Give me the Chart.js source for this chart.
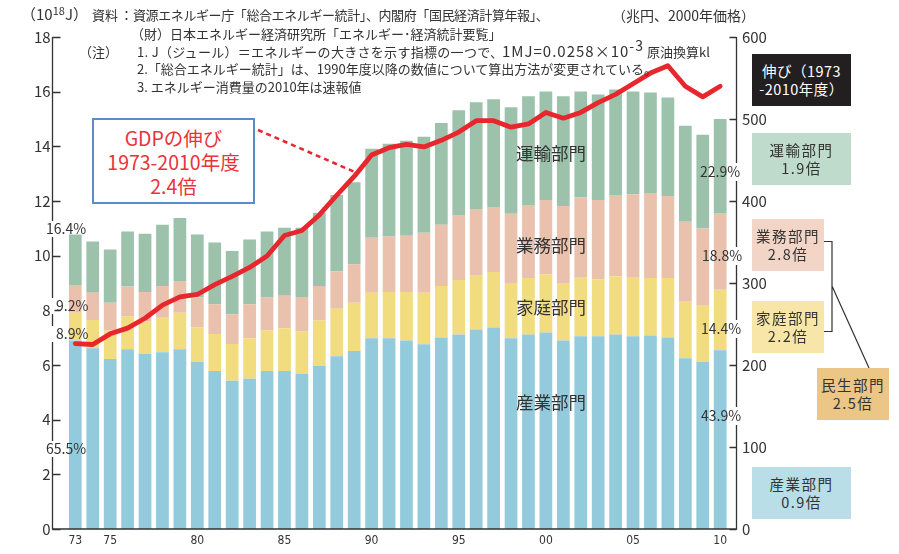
<!DOCTYPE html>
<html lang="ja">
<head>
<meta charset="utf-8">
<script src="https://cdn.jsdelivr.net/npm/chart.js@4.4.1/dist/chart.umd.min.js"></script>
<style>
html, body { margin: 0; padding: 0; background: #fff; }
#wrap { position: relative; width: 899px; height: 554px; overflow: hidden; font-family: "Noto Sans CJK JP", sans-serif; color: #333; }
#chart { position: absolute; left: 0; top: 0; }
.note { position: absolute; white-space: nowrap; font-size: 13px; line-height: 14px; }
.note sup { font-size: 10px; vertical-align: 5px; line-height: 0; }
.sector { position: absolute; white-space: nowrap; font-size: 17.5px; line-height: 20px; }
.box { position: absolute; display: flex; flex-direction: column; justify-content: center; align-items: center; font-size: 14.5px; line-height: 18.5px; letter-spacing: 1.5px; box-sizing: border-box; }
#gdp-box { position: absolute; left: 92px; top: 118px; width: 163px; height: 86px; box-sizing: border-box; border: 2.5px solid #5b8cc8; background: #fff; color: #e8333a; font-size: 19.5px; line-height: 24px; text-align: center; padding-top: 6px; }
</style>
</head>
<body>
<div id="wrap">
  <canvas id="chart" width="899" height="554"></canvas>

  <!-- 注記 -->
  <div class="note" style="left:21px;top:7px;font-size:15px;">（10<sup style="font-size:11px">18</sup>J）</div>
  <div class="note" style="left:92px;top:8px;">資料</div>
  <div class="note" style="left:120px;top:8px;">：</div>
  <div class="note" style="left:133px;top:8px;letter-spacing:-0.4px;">資源エネルギー庁「総合エネルギー統計」、内閣府「国民経済計算年報」、</div>
  <div class="note" style="left:612px;top:8px;font-size:14px;">（兆円、2000年価格）</div>
  <div class="note" style="left:131px;top:27px;">（財）日本エネルギー経済研究所「エネルギー･経済統計要覧」</div>
  <div class="note" style="left:79px;top:45px;">（注）</div>
  <div class="note" style="left:137px;top:45px;letter-spacing:0.3px;">1. J（ジュール）＝エネルギーの大きさを示す指標の一つで、</div>
  <div class="note" style="left:502px;top:44px;font-size:15px;letter-spacing:1px;">1MJ=0.0258×10<sup style="font-size:14px;vertical-align:6px;">-3</sup></div>
  <div class="note" style="left:647px;top:45px;">原油換算kl</div>
  <div class="note" style="left:137px;top:62px;">2.「総合エネルギー統計」は、1990年度以降の数値について算出方法が変更されている。</div>
  <div class="note" style="left:137px;top:80px;">3. エネルギー消費量の2010年は速報値</div>

  <!-- GDP注記 -->
  <div id="gdp-box">GDPの伸び<br>1973-2010年度<br>2.4倍</div>

  <!-- 部門名 -->
  <div class="sector" style="left:516px;top:143px;">運輸部門</div>
  <div class="sector" style="left:516px;top:235px;">業務部門</div>
  <div class="sector" style="left:516px;top:297px;">家庭部門</div>
  <div class="sector" style="left:516px;top:392px;">産業部門</div>

  <!-- 伸び率 -->
  <div class="box" style="left:752px;top:54px;width:99px;height:52px;background:#231f20;color:#fff;letter-spacing:0.5px;"><div>伸び（1973</div><div>-2010年度）</div></div>
  <div class="box" style="left:752px;top:133px;width:99px;height:52px;background:#bfdbcc;"><div>運輸部門</div><div>1.9倍</div></div>
  <div class="box" style="left:752px;top:219px;width:72px;height:52px;background:#f2d5c6;"><div>業務部門</div><div>2.8倍</div></div>
  <div class="box" style="left:752px;top:301px;width:72px;height:52px;background:#f8e6a9;"><div>家庭部門</div><div>2.2倍</div></div>
  <div class="box" style="left:817px;top:368px;width:72px;height:52px;background:#ecc686;"><div>民生部門</div><div>2.5倍</div></div>
  <div class="box" style="left:752px;top:467px;width:99px;height:52px;background:#b9dee8;"><div>産業部門</div><div>0.9倍</div></div>
</div>

<script>
// 年度
const years = [1973, 1974, 1975, 1976, 1977, 1978, 1979, 1980, 1981, 1982,
  1983, 1984, 1985, 1986, 1987, 1988, 1989, 1990, 1991, 1992,
  1993, 1994, 1995, 1996, 1997, 1998, 1999, 2000, 2001, 2002,
  2003, 2004, 2005, 2006, 2007, 2008, 2009, 2010];

// 横軸に表示する年度
const tickYears = [1973, 1975, 1980, 1985, 1990, 1995, 2000, 2005, 2010];

// 産業部門 (10^18J)
const industry = [6.90, 6.61, 6.22, 6.58, 6.40, 6.47, 6.58, 6.12, 5.78, 5.42,
  5.50, 5.78, 5.78, 5.67, 5.96, 6.32, 6.51, 6.98, 6.98, 6.90,
  6.76, 7.01, 7.12, 7.30, 7.37, 6.98, 7.12, 7.19, 6.90, 7.05,
  7.05, 7.12, 7.05, 7.08, 7.01, 6.25, 6.11, 6.54];

// 家庭部門
const household = [1.01, 1.04, 1.04, 1.19, 1.19, 1.26, 1.33, 1.25, 1.35, 1.35,
  1.48, 1.48, 1.56, 1.56, 1.67, 1.74, 1.77, 1.66, 1.69, 1.77,
  1.88, 1.88, 1.99, 1.99, 2.03, 2.02, 2.06, 2.13, 2.10, 2.17,
  2.09, 2.13, 2.17, 2.10, 2.17, 2.06, 2.06, 2.21];

// 業務部門
const commercial = [1.02, 0.99, 1.02, 1.10, 1.08, 1.16, 1.16, 1.10, 1.09, 1.08,
  1.24, 1.21, 1.19, 1.26, 1.26, 1.37, 1.41, 2.02, 2.03, 2.06,
  2.20, 2.24, 2.38, 2.42, 2.38, 2.53, 2.67, 2.72, 2.82, 2.92,
  2.90, 2.97, 3.03, 3.11, 3.00, 2.93, 2.82, 2.81];

// 運輸部門
const transport = [1.84, 1.88, 1.95, 2.01, 2.13, 2.24, 2.31, 2.30, 2.26, 2.32,
  2.37, 2.41, 2.49, 2.53, 2.68, 2.79, 3.00, 3.25, 3.39, 3.47,
  3.51, 3.72, 3.83, 3.90, 3.94, 3.90, 3.98, 3.97, 4.01, 3.87,
  3.86, 3.86, 3.76, 3.68, 3.61, 3.51, 3.43, 3.44];

// 実質GDP (兆円、2000年価格)
const gdp = [226, 225, 238, 245, 257, 273, 283, 286, 298, 308,
  319, 333, 358, 364, 383, 407, 430, 456, 465, 469,
  466, 474, 484, 498, 498, 490, 494, 508, 501, 508,
  520, 530, 543, 556, 565, 540, 527, 540];

// 構成比ラベル (1973 / 2010)
const shareLeft = ['16.4%', '9.2%', '8.9%', '65.5%'];
const shareRight = ['22.9%', '18.8%', '14.4%', '43.9%'];

const FONT = '"Noto Sans CJK JP", sans-serif';
const LEFT_AXIS_X = 52.5;
const RIGHT_AXIS_X = 736.5;

/*
  軸線・目盛・構成比・引き出し線
*/
const decoPlugin = {
  id: 'deco',
  afterDraw(chart) {
    const ctx = chart.ctx;
    const y = chart.scales.y;
    const y1 = chart.scales.y1;
    const top = y.getPixelForValue(18);
    const bottom = y.getPixelForValue(0);

    ctx.save();
    // 軸線
    ctx.strokeStyle = '#333';
    ctx.lineWidth = 1.3;
    ctx.beginPath();
    ctx.moveTo(LEFT_AXIS_X, top);
    ctx.lineTo(LEFT_AXIS_X, bottom);
    ctx.lineTo(RIGHT_AXIS_X, bottom);
    ctx.lineTo(RIGHT_AXIS_X, y1.getPixelForValue(600));
    y.ticks.forEach(t => {
      const py = Math.round(y.getPixelForValue(t.value)) + 0.5;
      ctx.moveTo(LEFT_AXIS_X, py);
      ctx.lineTo(LEFT_AXIS_X + 8, py);
    });
    y1.ticks.forEach(t => {
      const py = Math.round(y1.getPixelForValue(t.value)) + 0.5;
      ctx.moveTo(RIGHT_AXIS_X, py);
      ctx.lineTo(RIGHT_AXIS_X - 7, py);
    });
    ctx.stroke();

    // 構成比
    ctx.font = '14px ' + FONT;
    ctx.textBaseline = 'middle';
    ctx.textAlign = 'left';
    const leftPos = [[46, 229], [56, 306], [56, 334], [46, 449]];
    shareLeft.forEach((s, i) => {
      ctx.fillStyle = '#fff';
      ctx.fillRect(LEFT_AXIS_X - 2, leftPos[i][1] - 8, 4, 16);
      ctx.fillStyle = '#333';
      ctx.fillText(s, leftPos[i][0], leftPos[i][1]);
    });
    const rightPos = [[700, 172], [702, 256], [701, 329], [701, 416]];
    shareRight.forEach((s, i) => {
      ctx.fillStyle = '#fff';
      ctx.fillRect(RIGHT_AXIS_X - 2, rightPos[i][1] - 9, 4, 18);
      ctx.fillStyle = '#333';
      ctx.fillText(s, rightPos[i][0], rightPos[i][1]);
    });

    // GDP引き出し線
    ctx.strokeStyle = '#e8262d';
    ctx.lineWidth = 2.5;
    ctx.setLineDash([5, 4]);
    ctx.beginPath();
    ctx.moveTo(258, 130);
    ctx.lineTo(357, 173);
    ctx.stroke();
    ctx.setLineDash([]);

    // 民生部門の括弧
    ctx.strokeStyle = '#333';
    ctx.lineWidth = 1.2;
    ctx.beginPath();
    ctx.moveTo(824, 241.5);
    ctx.lineTo(832, 241.5);
    ctx.lineTo(832, 331.5);
    ctx.lineTo(824, 331.5);
    ctx.moveTo(832, 286);
    ctx.lineTo(869, 368);
    ctx.stroke();
    ctx.restore();
  }
};

function barSet(label, data, color) {
  return {
    type: 'bar',
    label: label,
    data: data,
    backgroundColor: color,
    borderWidth: 0,
    stack: 'energy',
    yAxisID: 'y',
    order: 1,
    categoryPercentage: 1,
    barPercentage: 0.73
  };
}

new Chart(document.getElementById('chart'), {
  data: {
    labels: years,
    datasets: [
      {
        type: 'line',
        label: 'GDP',
        data: gdp,
        yAxisID: 'y1',
        borderColor: '#e8262d',
        borderWidth: 4.8,
        pointRadius: 0,
        tension: 0,
        borderJoinStyle: 'round',
        borderCapStyle: 'round',
        order: 0
      },
      barSet('産業部門', industry, '#93cbdc'),
      barSet('家庭部門', household, '#f2dc80'),
      barSet('業務部門', commercial, '#eac1ac'),
      barSet('運輸部門', transport, '#9cc2ac')
    ]
  },
  options: {
    responsive: false,
    animation: false,
    devicePixelRatio: 1,
    layout: { padding: { top: 37, left: 0, right: 0, bottom: 0 } },
    plugins: {
      legend: { display: false },
      tooltip: { enabled: false }
    },
    scales: {
      x: {
        stacked: true,
        grid: { display: false, drawTicks: false },
        border: { display: false },
        ticks: {
          autoSkip: false,
          maxRotation: 0,
          padding: 5,
          color: '#333',
          font: { family: '"Liberation Sans Narrow", "DejaVu Sans Condensed", sans-serif', size: 12 },
          callback: function(val, idx) {
            const yr = years[idx];
            return tickYears.includes(yr) ? String(yr).slice(-2) : '';
          }
        },
        afterFit: function(scale) { scale.height = 19; }
      },
      y: {
        position: 'left',
        stacked: true,
        min: 0,
        max: 18,
        grid: { display: false, drawTicks: false },
        border: { display: false },
        ticks: { stepSize: 2, padding: 16, color: '#333', font: { family: FONT, size: 15 } },
        afterFit: function(scale) { scale.width = 66.6; }
      },
      y1: {
        position: 'right',
        min: 0,
        max: 600,
        grid: { display: false, drawTicks: false },
        border: { display: false },
        ticks: { stepSize: 100, padding: 13, color: '#333', font: { family: FONT, size: 15 } },
        afterFit: function(scale) { scale.width = 899 - 728.9; }
      }
    }
  },
  plugins: [decoPlugin]
});
</script>
</body>
</html>
